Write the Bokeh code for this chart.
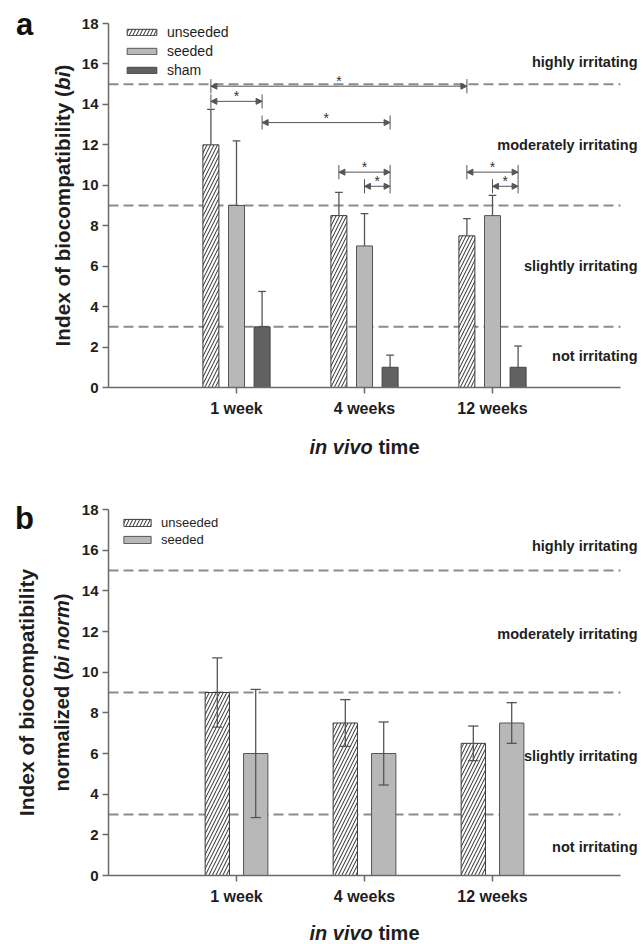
import numpy as np
from bokeh.plotting import figure
from bokeh.models import (Range1d, FixedTicker, Label, Legend, LegendItem,
                          ColumnDataSource, Arrow, NormalHead)
from bokeh.layouts import column
from bokeh.embed import file_html
from bokeh.resources import INLINE
from bokeh.core.properties import value

# ---------------- data ----------------
categories = ["1 week", "4 weeks", "12 weeks"]

# panel a: index of biocompatibility (bi)
bi_unseeded = [12.0, 8.5, 7.5]
bi_seeded = [9.0, 7.0, 8.5]
bi_sham = [3.0, 1.0, 1.0]
bi_unseeded_err = [1.75, 1.15, 0.85]
bi_seeded_err = [3.2, 1.6, 1.0]
bi_sham_err = [1.75, 0.6, 1.05]

# panel b: normalized index (bi norm)
norm_unseeded = [9.0, 7.5, 6.5]
norm_seeded = [6.0, 6.0, 7.5]
norm_unseeded_err = [1.7, 1.15, 0.85]
norm_seeded_err = [3.15, 1.55, 1.0]

y_ticks = [0, 2, 4, 6, 8, 10, 12, 14, 16, 18]
thresholds = [3, 9, 15]
zone_labels = ["not irritating", "slightly irritating", "moderately irritating", "highly irritating"]
zone_label_y_a = [1.55, 6.0, 12.0, 16.1]
zone_label_y_b = [1.4, 5.9, 11.9, 16.2]

# significance brackets in panel a
sig_from_cat = ["1 week", "1 week", "1 week", "4 weeks", "4 weeks", "12 weeks", "12 weeks"]
sig_from_grp = ["unseeded", "unseeded", "sham", "unseeded", "seeded", "unseeded", "seeded"]
sig_to_cat = ["12 weeks", "1 week", "4 weeks", "4 weeks", "4 weeks", "12 weeks", "12 weeks"]
sig_to_grp = ["unseeded", "sham", "sham", "sham", "sham", "sham", "sham"]
sig_y = [14.9, 14.15, 13.1, 10.65, 9.95, 10.65, 9.95]

# ---------------- layout / styling ----------------
FONT = "Liberation Sans"
TXT = "#1e1e1e"
AXC = "#6a6a6a"
W = 643
AX_LEFT = 108      # pixel x of the y axis
AX_RIGHT = 620     # pixel x where the x axis ends
X_MAX = 4.0
PX_X = (AX_RIGHT - AX_LEFT) / X_MAX
Y_MAX = 18.0
cat_x = {c: i + 1 for i, c in enumerate(categories)}

AB = {" ": 278, "(": 333, ")": 333, "I": 278, "a": 556, "b": 611, "c": 556, "d": 611,
      "e": 556, "f": 333, "i": 278, "l": 278, "m": 889, "n": 611, "o": 611, "p": 611,
      "r": 389, "t": 333, "v": 556, "x": 556, "y": 556, "z": 500}


def tw(s, size):
    return sum(AB.get(ch, 556) for ch in s) / 1000.0 * size


def make_fig(h, top_px, zero_px):
    """h: figure height; top_px / zero_px: pixel rows of y=18 and y=0 within the figure."""
    ppy = (zero_px - top_px) / Y_MAX
    y0 = -(h - zero_px) / ppy
    y1 = Y_MAX + top_px / ppy
    x0 = -AX_LEFT / PX_X
    x1 = (W - AX_LEFT) / PX_X
    p = figure(width=W, height=h, x_range=Range1d(x0, x1), y_range=Range1d(y0, y1),
               output_backend="svg", toolbar_location=None,
               min_border=0, min_border_left=0, min_border_right=0,
               min_border_top=0, min_border_bottom=0)
    p.grid.visible = False
    p.outline_line_color = None
    p.xaxis.ticker = FixedTicker(ticks=[cat_x[c] for c in categories])
    p.xaxis.major_label_overrides = {cat_x[c]: c for c in categories}
    p.yaxis.ticker = FixedTicker(ticks=y_ticks)
    p.xaxis.fixed_location = 0
    p.yaxis.fixed_location = 0
    p.xaxis.bounds = (0, X_MAX)
    p.yaxis.bounds = (0, Y_MAX)
    for ax in p.axis:
        ax.axis_line_color = AXC
        ax.axis_line_width = 1.5
        ax.major_tick_line_color = AXC
        ax.major_tick_line_width = 1.5
        ax.major_tick_out = 6
        ax.major_tick_in = 0
        ax.minor_tick_line_color = None
        ax.major_label_text_font = FONT
        ax.major_label_text_font_style = "bold"
        ax.major_label_text_color = TXT
    p.xaxis.major_label_text_font_size = "16px"
    p.yaxis.major_label_text_font_size = "15px"
    p.xaxis.major_label_standoff = 6
    p.yaxis.major_label_standoff = 4
    n = len(thresholds)
    p.segment(x0=[0] * n, x1=[X_MAX] * n, y0=thresholds, y1=thresholds,
              line_color="#8c8c8c", line_width=2, line_dash="10 5")
    return p, ppy


def vtitle(p, x, yc, parts, size, px_y):
    total = sum(tw(t, size) for t, _ in parts)
    y = yc - total / 2.0 / px_y
    for t, st in parts:
        p.add_layout(Label(x=x, y=y, text=t, angle=np.pi / 2, text_align="left",
                           text_baseline="middle", text_font=FONT, text_font_size=f"{size}px",
                           text_font_style=st, text_color=TXT))
        y += tw(t, size) / px_y


def xtitle(p, y, size):
    w1 = tw("in vivo ", size)
    w2 = tw("time", size)
    x0 = 2.0 - (w1 + w2) / 2.0 / PX_X
    p.add_layout(Label(x=x0, y=y, text="in vivo", text_align="left", text_baseline="middle",
                       text_font=FONT, text_font_size=f"{size}px", text_font_style="bold italic",
                       text_color=TXT))
    p.add_layout(Label(x=x0 + w1 / PX_X, y=y, text="time", text_align="left",
                       text_baseline="middle", text_font=FONT, text_font_size=f"{size}px",
                       text_font_style="bold", text_color=TXT))


def zones(p, ys):
    for lab, y in zip(zone_labels, ys):
        p.add_layout(Label(x=(637 - AX_LEFT) / PX_X, y=y, text=lab, text_align="right",
                           text_baseline="middle", text_font=FONT, text_font_size="14.5px",
                           text_font_style="bold", text_color=TXT))


def bars(p, xs, tops, width, style):
    src = ColumnDataSource(dict(x=xs, top=tops))
    return p.vbar(x="x", top="top", width=width, bottom=0, source=src, **style)


st_unseeded = dict(fill_color="white", line_color="#3a3a3a", line_width=1,
                   hatch_pattern="/", hatch_color="#2a2a2a", hatch_weight=1, hatch_scale=7)
st_seeded = dict(fill_color="#b8b8b8", line_color="#555555", line_width=1)
st_sham = dict(fill_color="#616161", line_color="#444444", line_width=1)
ERR = dict(line_color="#555555", line_width=1.3)

# ================= panel a =================
HA = 475
ZEROA = 387
pa, PX_YA = make_fig(HA, 23, ZEROA)
off_a = {"unseeded": -0.2, "seeded": 0.0, "sham": 0.2}
wa = 0.125
series_a = [("unseeded", bi_unseeded, bi_unseeded_err, st_unseeded),
            ("seeded", bi_seeded, bi_seeded_err, st_seeded),
            ("sham", bi_sham, bi_sham_err, st_sham)]
items_a = []
for name, vals, errs, st in series_a:
    xs = np.array([cat_x[c] for c in categories], dtype=float) + off_a[name]
    r = bars(pa, xs, vals, wa, st)
    items_a.append(LegendItem(label=name, renderers=[r]))
    tops = np.array(vals)
    hi = tops + np.array(errs)
    pa.segment(x0=xs, y0=tops, x1=xs, y1=hi, **ERR)
    pa.segment(x0=xs - 0.03, y0=hi, x1=xs + 0.03, y1=hi, **ERR)

bx0 = np.array([cat_x[c] + off_a[g] for c, g in zip(sig_from_cat, sig_from_grp)])
bx1 = np.array([cat_x[c] + off_a[g] for c, g in zip(sig_to_cat, sig_to_grp)])
by = np.array(sig_y)
bsrc = ColumnDataSource(dict(x0=bx0, x1=bx1, y=by, ylo=by - 0.35, yhi=by + 0.35,
                             xm=(bx0 + bx1) / 2, ys=by + 0.25, s=["*"] * len(by)))
pa.add_layout(Arrow(source=bsrc, x_start="x0", y_start="y", x_end="x1", y_end="y",
                    start=NormalHead(size=6, fill_color="#555555", line_color="#555555", line_width=1),
                    end=NormalHead(size=6, fill_color="#555555", line_color="#555555", line_width=1),
                    line_color="#555555", line_width=1))
pa.segment(x0="x0", y0="ylo", x1="x0", y1="yhi", source=bsrc, line_color="#555555", line_width=1)
pa.segment(x0="x1", y0="ylo", x1="x1", y1="yhi", source=bsrc, line_color="#555555", line_width=1)
pa.text(x="xm", y="ys", text="s", source=bsrc, text_align="center", text_baseline="alphabetic",
        text_font=value(FONT), text_font_size="14px", text_color="#333333")

leg_a = Legend(items=items_a, location=(123, HA - 22 - 57), glyph_width=37, glyph_height=8,
               label_height=19, spacing=0, padding=0, margin=0, label_standoff=7,
               label_text_font=FONT, label_text_font_size="14px", label_text_color=TXT,
               background_fill_alpha=0, border_line_color=None)
pa.add_layout(leg_a)

zones(pa, zone_label_y_a)
vtitle(pa, (62 - AX_LEFT) / PX_X, 9.0,
       [("Index of biocompatibility (", "bold"), ("bi", "bold italic"), (")", "bold")], 20.7, PX_YA)
xtitle(pa, (ZEROA - 446) / PX_YA, 20)
pa.add_layout(Label(x=(24 - AX_LEFT) / PX_X, y=(ZEROA - 24) / PX_YA, text="a", text_align="center",
                    text_baseline="middle", text_font=FONT, text_font_size="31px",
                    text_font_style="bold", text_color="#111111"))

# ================= panel b =================
HB = 469
TOPB = 34          # y=18 row within panel b
ZEROB = 400        # y=0 row within panel b
pb, PX_YB = make_fig(HB, TOPB, ZEROB)
off_b = {"unseeded": -0.15, "seeded": 0.15}
wb = 0.19
series_b = [("unseeded", norm_unseeded, norm_unseeded_err, st_unseeded),
            ("seeded", norm_seeded, norm_seeded_err, st_seeded)]
items_b = []
for name, vals, errs, st in series_b:
    xs = np.array([cat_x[c] for c in categories], dtype=float) + off_b[name]
    r = bars(pb, xs, vals, wb, st)
    items_b.append(LegendItem(label=name, renderers=[r]))
    tops = np.array(vals)
    e = np.array(errs)
    pb.segment(x0=xs, y0=tops - e, x1=xs, y1=tops + e, **ERR)
    pb.segment(x0=xs - 0.04, y0=tops + e, x1=xs + 0.04, y1=tops + e, **ERR)
    pb.segment(x0=xs - 0.04, y0=tops - e, x1=xs + 0.04, y1=tops - e, **ERR)

leg_b = Legend(items=items_b, location=(120, HB - 39 - 34), glyph_width=34, glyph_height=9,
               label_height=17, spacing=0, padding=0, margin=0, label_standoff=7,
               label_text_font=FONT, label_text_font_size="13px", label_text_color=TXT,
               background_fill_alpha=0, border_line_color=None)
pb.add_layout(leg_b)

zones(pb, zone_label_y_b)
vtitle(pb, (26 - AX_LEFT) / PX_X, 9.0, [("Index of biocompatibility", "bold")], 21, PX_YB)
vtitle(pb, (61 - AX_LEFT) / PX_X, 9.0,
       [("normalized (", "bold"), ("bi norm", "bold italic"), (")", "bold")], 20, PX_YB)
xtitle(pb, -(457 - ZEROB) / PX_YB, 20)
pb.add_layout(Label(x=(24 - AX_LEFT) / PX_X, y=(ZEROB - 43) / PX_YB, text="b", text_align="center",
                    text_baseline="middle", text_font=FONT, text_font_size="31px",
                    text_font_style="bold", text_color="#111111"))

layout = column(pa, pb, spacing=0)
open("out.html", "w").write(file_html(layout, INLINE))
